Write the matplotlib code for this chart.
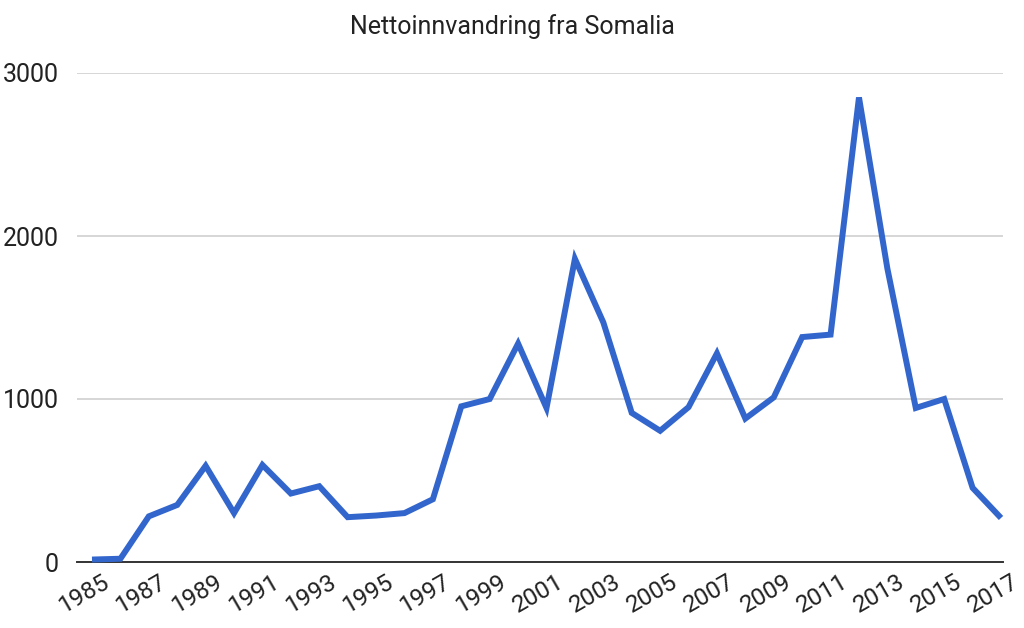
import matplotlib
matplotlib.use("Agg")
import matplotlib.pyplot as plt
import matplotlib.transforms as mtransforms

years = list(range(1985, 2018))
values = [15, 20, 280, 350, 590, 300, 595, 420, 465, 275, 285, 300, 385,
          955, 1000, 1340, 945, 1860, 1470, 915, 805, 950, 1280, 880, 1010,
          1380, 1395, 2850, 1800, 945, 1000, 455, 270]
tick_years = list(range(1985, 2018, 2))
y_ticks = [0, 1000, 2000, 3000]
title = "Nettoinnvandring fra Somalia"

plt.rcParams['font.family'] = ['Roboto', 'DejaVu Sans']

fig = plt.figure(figsize=(10.24, 6.28), dpi=100)
ax = fig.add_axes([77/1024, 1-562/628, (1003-77)/1024, (562-73)/628])

ax.plot(years, values, color='#3366CC', linewidth=4.3, solid_joinstyle='miter',
        solid_capstyle='butt', zorder=3, clip_on=False)

ax.set_xlim(1984.472, 2017.07)
ax.set_ylim(0, 3000)
ax.set_yticks(y_ticks)
ax.set_yticklabels([str(v) for v in y_ticks])
ax.set_xticks(tick_years)
ax.set_xticklabels([str(y) for y in tick_years])

ax.grid(axis='y', color='#cccccc', linewidth=1.1, zorder=0)
ax.grid(axis='x', visible=False)
for s in ['top', 'right', 'left']:
    ax.spines[s].set_visible(False)
ax.spines['bottom'].set_color('#333333')
ax.spines['bottom'].set_linewidth(1.4)
ax.spines['bottom'].set_zorder(2)

ax.tick_params(axis='y', length=0, labelsize=18, colors='#222222', pad=13)
ax.tick_params(axis='x', length=0, labelsize=17.5, colors='#222222', pad=6)

offset = mtransforms.ScaledTranslation(10/100, 0, fig.dpi_scale_trans)
for lbl in ax.get_xticklabels():
    lbl.set_rotation(30)
    lbl.set_ha('right')
    lbl.set_va('top')
    lbl.set_rotation_mode('anchor')
    lbl.set_transform(lbl.get_transform() + offset)

fig.text(512/1024, 1-27/628, title, ha='center', va='center', fontsize=18, color='#222222')

fig.savefig('out.png', dpi=100, facecolor='white')
